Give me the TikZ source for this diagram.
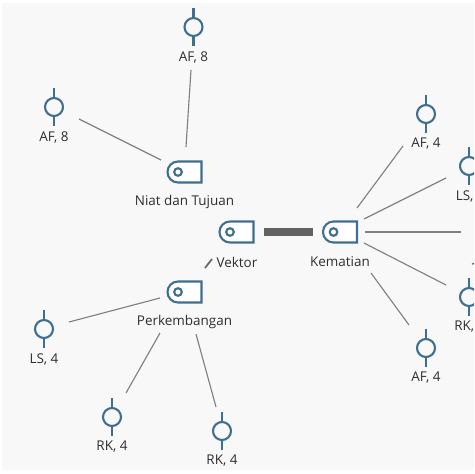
\documentclass[tikz,border=0pt]{standalone}
\usepackage{fontspec}
\setmainfont{Open Sans}
\definecolor{bgc}{HTML}{F8F8F8}
\definecolor{icon}{HTML}{3F6F90}
\definecolor{lnk}{HTML}{808080}
\tikzset{
 x=0.75pt,y=-0.75pt,
 lab/.style={font=\fontsize{10.1}{12}\selectfont,text=black!82,inner sep=0pt,anchor=center},
 lnk/.style={draw=lnk,line width=0.85pt},
 ic/.style={draw=icon,line width=1.6pt},
 boxicon/.pic={
  \filldraw[ic,fill=white] (-6.5,-10.5) -- (17,-10.5) -- (17,10.5) -- (-6.5,10.5) arc[start angle=90,end angle=270,radius=10.5] -- cycle;
  \draw[ic] (-6.5,0) circle[radius=3.8];
 },
 pin/.pic={
  \draw[ic] (0,0) circle[radius=9];
  \draw[ic] (0,-9) -- (0,-19) (0,9) -- (0,19);
 }
}
\begin{document}
\begin{tikzpicture}
\useasboundingbox (0,0) rectangle (474,474);
\begin{scope}
\clip (0,0) rectangle (474,474);
\fill[white] (0,0) rectangle (474,474);
\fill[bgc] (2,3) rectangle (474,470);
\foreach \n/\x/\y/\t in {a/193.5/27/{AF, 8},b/54/107/{AF, 8},c/426/114/{AF, 4},f/426/348/{AF, 4},g/44/329/{LS, 4},h/112/417/{RK, 4},i/222/431/{RK, 4}}{
 \pic at (\x,\y) {pin};
 \node[lab] (\n) at (\x,\y+30) {\t};
}
\pic at (469,166) {pin};
\node[lab,anchor=west] (d) at (455.5,196) {LS,};
\pic at (469,297) {pin};
\node[lab,anchor=west] (e) at (454,327) {RK,};
\foreach \n/\x/\y/\t/\tx/\ty in {p/184.5/172/{Niat dan Tujuan}/184.5/202,q/236.5/232/{Vektor}/237/262,r/340/232/{Kematian}/340/262,s/184.5/292/{Perkembangan}/184.5/322}{
 \pic at (\x,\y) {boxicon};
 \node[lab] (\n) at (\tx,\ty) {\t};
}
\coordinate (a1) at (191,70); \coordinate (a2) at (186,147);
\coordinate (b1) at (79,119); \coordinate (b2) at (161,160);
\coordinate (c1) at (403,146); \coordinate (c2) at (357,208);
\coordinate (d1) at (446,178); \coordinate (d2) at (364,219);
\coordinate (e1) at (446,285); \coordinate (e2) at (364,243);
\coordinate (f1) at (409,325); \coordinate (f2) at (371,273);
\coordinate (l1) at (461,232); \coordinate (l2) at (365,232);
\coordinate (g1) at (69,322); \coordinate (g2) at (160,298);
\coordinate (h1) at (126,393); \coordinate (h2) at (160,333);
\coordinate (i1) at (216,407); \coordinate (i2) at (196,334);
\coordinate (v1) at (205,268); \coordinate (v2) at (212,259);
\coordinate (t1) at (472,264); \coordinate (t2) at (476,263);
\foreach \u/\v in {a1/a2,b1/b2,c1/c2,d1/d2,e1/e2,f1/f2,l1/l2,g1/g2,h1/h2,i1/i2}{\draw[lnk] (\u)--(\v);}
\draw[draw=black!60,line width=1.3pt] (v1)--(v2);
\draw[draw=black!60,line width=1pt] (t1)--(t2);
\coordinate (m1) at (264,232); \coordinate (m2) at (313,232);
\draw[draw=black!62,line width=6pt] (m1)--(m2);
\end{scope}
\end{tikzpicture}
\end{document}
